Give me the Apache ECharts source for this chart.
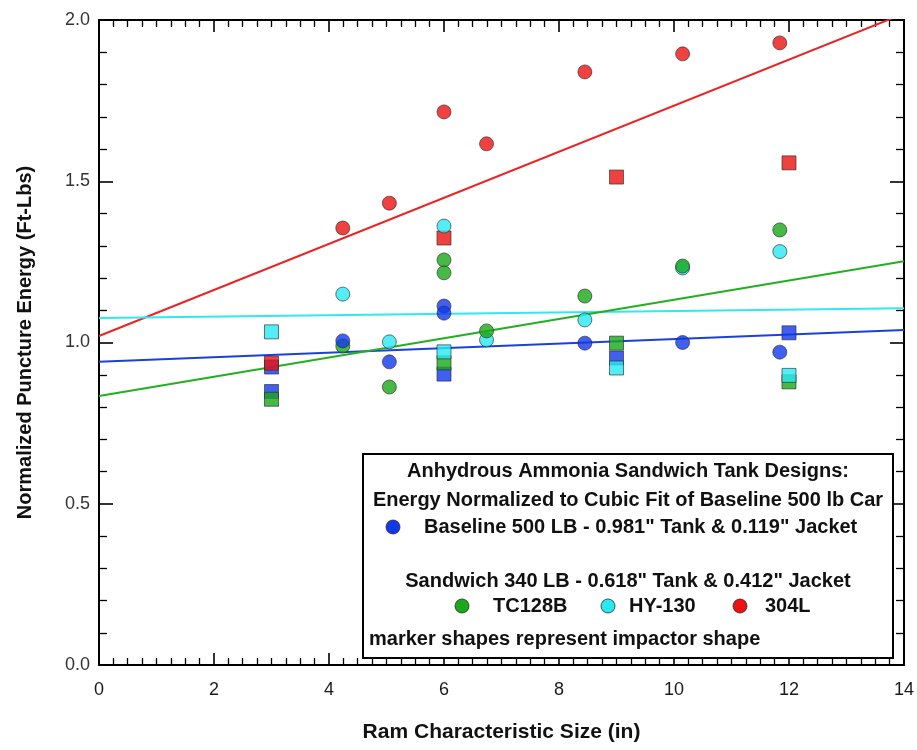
<!DOCTYPE html>
<html><head><meta charset="utf-8">
<script src="https://cdn.jsdelivr.net/npm/echarts@6/dist/echarts.min.js"></script>
<style>html,body{margin:0;padding:0;background:#fff}#c{width:917px;height:750px}</style>
</head><body><div id="c"></div>
<script>
// ---- data ----
const xTicks = [0, 2, 4, 6, 8, 10, 12, 14];
const yTicks = [0.0, 0.5, 1.0, 1.5, 2.0];

const blueCircX = [4.24, 5.05, 6, 6, 8.45, 10.15, 11.84];
const blueCircY = [1.005, 0.94, 1.113, 1.091, 0.998, 1.0, 0.97];
const blueSqX = [3, 3, 6, 9, 12];
const blueSqY = [0.924, 0.848, 0.902, 0.952, 1.03];

const greenCircX = [4.24, 5.05, 6, 6, 6.74, 8.45, 10.15, 11.84];
const greenCircY = [0.989, 0.862, 1.256, 1.216, 1.036, 1.144, 1.237, 1.349];
const greenSqX = [3, 6, 9, 12];
const greenSqY = [0.824, 0.937, 0.998, 0.878];

const cyanCircX = [4.24, 5.05, 6, 6.74, 8.45, 10.15, 11.84];
const cyanCircY = [1.15, 1.002, 1.361, 1.008, 1.07, 1.231, 1.282];
const cyanSqX = [3, 6, 9, 12];
const cyanSqY = [1.033, 0.971, 0.921, 0.898];

const redCircX = [4.24, 5.05, 6, 6.74, 8.45, 10.15, 11.84];
const redCircY = [1.355, 1.432, 1.715, 1.616, 1.839, 1.895, 1.929];
const redSqX = [3, 6, 9, 12];
const redSqY = [0.936, 1.324, 1.513, 1.557];

// linear fit lines (end points at x = 0 and x = 14)
const fitX = [0, 14];
const fitBlue = [0.94, 1.039];
const fitGreen = [0.834, 1.252];
const fitCyan = [1.076, 1.106];
const fitRed = [1.02, 2.02];

// ---- rendering ----
const C = {blue:'#1238ec', green:'#19a819', cyan:'#28e8f2', red:'#ec1212'};
const LC = {blue:'#1b40e0', green:'#22b022', cyan:'#30e8f2', red:'#e82424'};
const zip = (xs, ys) => xs.map((x, i) => [x, ys[i]]);

function scat(name, xs, ys, color, shape) {
  return {
    name, type:'scatter', data: zip(xs, ys), z: 5,
    symbol: shape, symbolSize: 14,
    itemStyle:{color, borderColor:'#2a2a2a', borderWidth:0.8},
    emphasis:{disabled:true}
  };
}
function fit(name, ys, color) {
  return {name, type:'line', data: zip(fitX, ys), symbol:'none', z:2, clip:true,
    lineStyle:{color, width:2}, emphasis:{disabled:true}, silent:true};
}

const FF = 'Liberation Sans, Arial, sans-serif';
function xAx(pos, labels) {
  return {
    type:'value', position:pos, min:xTicks[0], max:xTicks[xTicks.length-1], interval:2,
    axisLine:{show:true, onZero:false, lineStyle:{color:'#000', width:2}},
    axisTick:{show:true, inside:true, length:12, lineStyle:{color:'#000', width:1.6}},
    minorTick:{show:true, splitNumber:8, length:7, lineStyle:{color:'#000', width:1.3}},
    splitLine:{show:false}, minorSplitLine:{show:false},
    axisLabel: labels ? {margin:16, fontFamily:FF, fontSize:18, color:'#1a1a1a'} : {show:false},
    name: labels ? 'Ram Characteristic Size (in)' : '',
    nameLocation:'middle', nameGap:57,
    nameTextStyle:{fontFamily:FF, fontSize:21, fontWeight:'bold', color:'#111'}
  };
}
function yAx(pos, labels) {
  return {
    type:'value', position:pos, min:yTicks[0], max:yTicks[yTicks.length-1], interval:0.5,
    axisLine:{show:true, onZero:false, lineStyle:{color:'#000', width:2}},
    axisTick:{show:true, inside:true, length:14, lineStyle:{color:'#000', width:1.6}},
    minorTick:{show:true, splitNumber:5, length:8, lineStyle:{color:'#000', width:1.3}},
    splitLine:{show:false}, minorSplitLine:{show:false},
    axisLabel: labels ? {margin:9, fontFamily:FF, fontSize:18, color:'#333', formatter:v => v.toFixed(1)} : {show:false},
    name: labels ? 'Normalized Puncture Energy (Ft-Lbs)' : '',
    nameLocation:'middle', nameGap:64,
    nameTextStyle:{fontFamily:FF, fontSize:20, fontWeight:'bold', color:'#111'}
  };
}

const chart = echarts.init(document.getElementById('c'), null, {renderer:'canvas'});
const bx = 363, by = 454, bw = 530, bh = 204, cx = bx + bw/2;
const tf = {fontFamily:FF, fontSize:20, fontWeight:'bold', fill:'#111'};
function txt(x, y, s, align) {
  return {type:'text', x, y, z:20, style:Object.assign({text:s, textAlign:align||'center', textVerticalAlign:'middle'}, tf)};
}
function dot(x, y, color) {
  return {type:'circle', z:20, shape:{cx:x, cy:y, r:7}, style:{fill:color, stroke:'#2a2a2a', lineWidth:0.8}};
}

chart.setOption({
  animation:false,
  backgroundColor:'#fff',
  grid:{left:99, right:13, top:20, bottom:85},
  xAxis:[xAx('bottom', true), xAx('top', false)],
  yAxis:[yAx('left', true), yAx('right', false)],
  series:[
    fit('fitRed', fitRed, LC.red),
    fit('fitCyan', fitCyan, LC.cyan),
    fit('fitBlue', fitBlue, LC.blue),
    fit('fitGreen', fitGreen, LC.green),
    scat('blueSq', blueSqX, blueSqY, C.blue, 'rect'),
    scat('greenSq', greenSqX, greenSqY, C.green, 'rect'),
    scat('cyanSq', cyanSqX, cyanSqY, C.cyan, 'rect'),
    scat('redSq', redSqX, redSqY, C.red, 'rect'),
    scat('redCirc', redCircX, redCircY, C.red, 'circle'),
    scat('cyanCirc', cyanCircX, cyanCircY, C.cyan, 'circle'),
    scat('greenCirc', greenCircX, greenCircY, C.green, 'circle'),
    scat('blueCirc', blueCircX, blueCircY, C.blue, 'circle')
  ],
  graphic:[
    {type:'rect', z:19, shape:{x:bx, y:by, width:bw, height:bh}, style:{fill:'#fff', stroke:'#000', lineWidth:2}},
    txt(cx, 471, 'Anhydrous Ammonia Sandwich Tank Designs:'),
    txt(cx, 500, 'Energy Normalized to Cubic Fit of Baseline 500 lb Car'),
    dot(393, 527, C.blue),
    txt(424, 527, 'Baseline 500 LB - 0.981" Tank & 0.119" Jacket', 'left'),
    txt(cx, 581, 'Sandwich 340 LB - 0.618" Tank & 0.412" Jacket'),
    dot(462, 606, C.green),
    txt(493, 606, 'TC128B', 'left'),
    dot(608, 606, C.cyan),
    txt(629, 606, 'HY-130', 'left'),
    dot(740, 606, C.red),
    txt(765, 606, '304L', 'left'),
    txt(369, 639, 'marker shapes represent impactor shape', 'left')
  ]
});
</script></body></html>
